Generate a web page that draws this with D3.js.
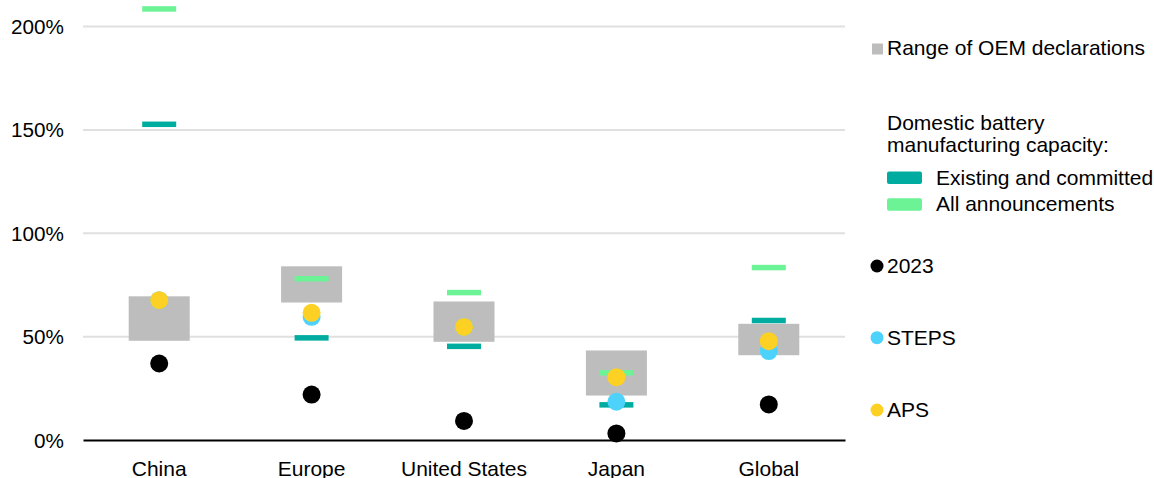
<!DOCTYPE html>
<html><head><meta charset="utf-8">
<script src="https://cdn.jsdelivr.net/npm/d3@7"></script>
<style>body{margin:0;background:#fff}text{font-family:"Liberation Sans",Arial,sans-serif;fill:#000}</style>
</head><body><svg id="c" width="1154" height="478"></svg>
<script>
const categories = ["China","Europe","United States","Japan","Global"];
const oemLow  = [48, 66.5, 47.5, 21.5, 41];
const oemHigh = [69.5, 84, 67, 43.3, 56.2];
const existing = [152.7, 49.4, 45.3, 17, 57.8];
const announcements = [208.5, 78, 71.3, 32.5, 83.4];
const y2023 = [37, 22, 9.2, 3.2, 17.2];
const steps = [67.6, 59.6, 54.7, 18.5, 43];
const aps = [67.6, 61.5, 54.7, 30.4, 47.8];
const yTicks = [0, 50, 100, 150, 200];

const colors = {box:"#bdbdbd", existing:"#00aca0", ann:"#6cf395", y2023:"#000000", steps:"#4dd2fb", aps:"#fdd124", grid:"#e0e0e0"};

const svg = d3.select("#c");
const L = 83, R = 845;
const x = d3.scaleBand().domain(categories).range([L, R]);
const y = d3.scaleLinear().domain([0, 200]).range([440, 26.5]);

// gridlines
svg.append("g").selectAll("line").data(yTicks.filter(d => d > 0)).join("line")
  .attr("x1", L).attr("x2", R).attr("y1", d => y(d)).attr("y2", d => y(d))
  .attr("stroke", colors.grid).attr("stroke-width", 2);

// y axis labels
const yAxis = d3.axisLeft(y).tickValues(yTicks).tickFormat(d => d + "%").tickSize(0).tickPadding(0);
const ga = svg.append("g").attr("transform", `translate(64,0)`).call(yAxis);
ga.select(".domain").remove();
ga.selectAll("text").attr("font-size", 20.7).attr("font-family", "Liberation Sans, Arial, sans-serif").attr("fill", "#000").attr("dy", "0.34em");

// x axis
const xAxis = d3.axisBottom(x).tickSize(0).tickPadding(0);
const gx = svg.append("g").attr("transform", `translate(0,440)`).call(xAxis);
gx.select(".domain").attr("stroke", "#000").attr("stroke-width", 2);
gx.selectAll("text").attr("font-size", 21).attr("font-family", "Liberation Sans, Arial, sans-serif").attr("fill", "#000").attr("dy", null).attr("y", 36);

const cx = d => x(d) + x.bandwidth() / 2;
const bw = 61, dw = 34, dh = 5.5, r = 9;

// boxes
svg.append("g").selectAll("rect").data(categories).join("rect")
  .attr("x", d => cx(d) - bw / 2).attr("width", bw)
  .attr("y", (d, i) => y(oemHigh[i])).attr("height", (d, i) => y(oemLow[i]) - y(oemHigh[i]))
  .attr("fill", colors.box);

// dashes
function dashes(vals, col) {
  svg.append("g").selectAll("rect").data(categories).join("rect")
    .attr("x", d => cx(d) - dw / 2).attr("width", dw)
    .attr("y", (d, i) => y(vals[i]) - dh / 2).attr("height", dh)
    .attr("fill", col);
}
dashes(existing, colors.existing);
dashes(announcements, colors.ann);

// dots
function dots(vals, col) {
  svg.append("g").selectAll("circle").data(categories).join("circle")
    .attr("cx", d => cx(d)).attr("cy", (d, i) => y(vals[i])).attr("r", r)
    .attr("fill", col);
}
dots(y2023, colors.y2023);
dots(steps, colors.steps);
dots(aps, colors.aps);

// legend
const lg = svg.append("g");
const fs = 21;
lg.append("rect").attr("x", 872).attr("y", 43.5).attr("width", 11).attr("height", 11).attr("fill", colors.box);
lg.append("text").attr("x", 887).attr("y", 55).attr("font-size", fs).text("Range of OEM declarations");
lg.append("text").attr("x", 887).attr("y", 129.5).attr("font-size", fs).text("Domestic battery");
lg.append("text").attr("x", 887).attr("y", 152).attr("font-size", fs).text("manufacturing capacity:");
lg.append("rect").attr("x", 887).attr("y", 171.5).attr("width", 35).attr("height", 12.5).attr("rx", 2).attr("fill", colors.existing);
lg.append("text").attr("x", 936).attr("y", 184.5).attr("font-size", fs).text("Existing and committed");
lg.append("rect").attr("x", 887).attr("y", 198.3).attr("width", 35).attr("height", 12.5).attr("rx", 2).attr("fill", colors.ann);
lg.append("text").attr("x", 936).attr("y", 211).attr("font-size", fs).text("All announcements");
const dl = [["2023", colors.y2023, 266], ["STEPS", colors.steps, 337.7], ["APS", colors.aps, 410]];
dl.forEach(([t, c, yy]) => {
  lg.append("circle").attr("cx", 877).attr("cy", yy).attr("r", 6.5).attr("fill", c);
  lg.append("text").attr("x", 887).attr("y", yy + 7).attr("font-size", fs).text(t);
});
</script></body></html>
